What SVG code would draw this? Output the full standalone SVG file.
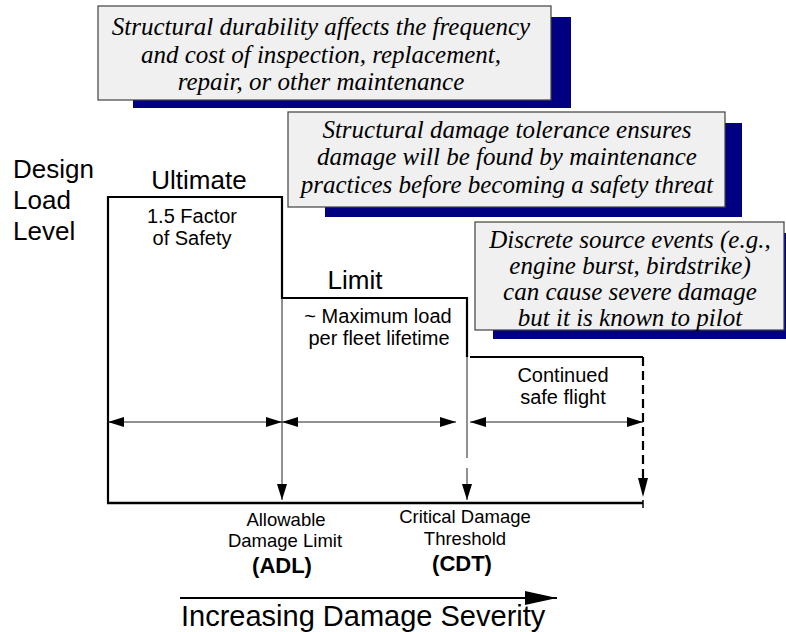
<svg xmlns="http://www.w3.org/2000/svg" width="786" height="632" viewBox="0 0 786 632">
<style>
.shadow{fill:#000080;}
.box{fill:#f0f0f0;stroke:#404040;stroke-width:1.2;}
.note{font-family:"Liberation Serif","Times New Roman",serif;font-style:italic;font-size:25px;fill:#000;text-anchor:middle;}
.big{font-family:"Liberation Sans",Arial,sans-serif;font-size:26px;fill:#000;}
.lbl{font-family:"Liberation Sans",Arial,sans-serif;font-size:20px;fill:#000;text-anchor:middle;}
.sm{font-family:"Liberation Sans",Arial,sans-serif;font-size:18.5px;fill:#000;text-anchor:middle;}
.bold{font-family:"Liberation Sans",Arial,sans-serif;font-size:22px;font-weight:bold;fill:#000;text-anchor:middle;}
.thick{stroke:#000;stroke-width:2.2;fill:none;}
.thin{stroke:#222;stroke-width:1;fill:none;}
.dash{stroke:#000;stroke-width:2.2;fill:none;stroke-dasharray:9,5;}
</style>
<defs>
<marker id="ah" viewBox="0 0 16 10" refX="16" refY="5" markerWidth="16" markerHeight="10" markerUnits="userSpaceOnUse" orient="auto-start-reverse">
<path d="M0,0 L16,5 L0,10 Z" fill="#000"/>
</marker>
<marker id="ahBig" viewBox="0 0 32 14" refX="32" refY="7" markerWidth="32" markerHeight="14" markerUnits="userSpaceOnUse" orient="auto">
<path d="M0,0 L32,7 L0,14 Z" fill="#000"/>
</marker>
</defs>

<g id="note-durability">
<rect class="shadow" x="133" y="17" width="438" height="91"/>
<rect class="box" x="98" y="6" width="453" height="94"/>
<text class="note" x="321" y="35">Structural durability affects the frequency</text>
<text class="note" x="321" y="63">and cost of inspection, replacement,</text>
<text class="note" x="321" y="90">repair, or other maintenance</text>
</g>

<g id="note-damage-tolerance">
<rect class="shadow" x="325" y="123" width="417" height="94"/>
<rect class="box" x="288" y="112" width="437" height="95"/>
<text class="note" x="507" y="138">Structural damage tolerance ensures</text>
<text class="note" x="507" y="165">damage will be found by maintenance</text>
<text class="note" x="507" y="193">practices before becoming a safety threat</text>
</g>

<g id="note-discrete-source">
<rect class="shadow" x="493" y="233" width="300" height="106"/>
<rect class="box" x="475" y="222" width="309" height="108"/>
<text class="note" x="630" y="248">Discrete source events (e.g.,</text>
<text class="note" x="630" y="274">engine burst, birdstrike)</text>
<text class="note" x="630" y="300">can cause severe damage</text>
<text class="note" x="630" y="326">but it is known to pilot</text>
</g>

<g id="axis-label">
<text class="big" x="13" y="178">Design</text>
<text class="big" x="13" y="209">Load</text>
<text class="big" x="13" y="240">Level</text>
</g>

<g id="ultimate">
<text class="big" x="199" y="189" text-anchor="middle">Ultimate</text>
<text class="lbl" x="192" y="223">1.5 Factor</text>
<text class="lbl" x="192" y="245">of Safety</text>
</g>

<g id="limit">
<text class="big" x="355" y="289" text-anchor="middle">Limit</text>
<text class="lbl" x="378" y="323">~ Maximum load</text>
<text class="lbl" x="379" y="345">per fleet lifetime</text>
</g>

<g id="continued">
<text class="lbl" x="563" y="382">Continued</text>
<text class="lbl" x="563" y="404">safe flight</text>
</g>

<g id="adl">
<text class="sm" x="286" y="526">Allowable</text>
<text class="sm" x="285" y="547">Damage Limit</text>
<text class="bold" x="282" y="573">(ADL)</text>
</g>

<g id="cdt">
<text class="sm" x="465" y="523">Critical Damage</text>
<text class="sm" x="465" y="545">Threshold</text>
<text class="bold" x="462" y="571">(CDT)</text>
</g>

<g id="severity">
<text class="big" x="181" y="626" style="font-size:29px">Increasing Damage Severity</text>
</g>

<g id="connectors">
<!-- load staircase -->
<path class="thick" d="M108,503 L108,197 L282,197 L282,298 L467,298 L467,357"/>
<path class="thick" d="M470,357 L643,357"/>
<path class="thick" d="M107,503 L643,503" style="stroke-width:2.5"/>
<!-- vertical markers -->
<path class="thin" d="M282,298 L282,500" marker-end="url(#ah)"/>
<path class="thin" d="M467,357 L467,458"/>
<path class="thin" d="M467,468 L467,500" marker-end="url(#ah)"/>
<path class="dash" d="M643,357 L643,478"/>
<path d="M638,478 L648,478 L643,497 Z" fill="#000"/>
<path class="dash" d="M643,500 L643,508" style="stroke-dasharray:none;stroke-width:1.5"/>
<!-- dimension arrows -->
<path class="thin" d="M108,422 L282,422" marker-start="url(#ah)" marker-end="url(#ah)"/>
<path class="thin" d="M282,422 L456,422" marker-start="url(#ah)" marker-end="url(#ah)"/>
<path class="thin" d="M470,422 L643,422" marker-start="url(#ah)" marker-end="url(#ah)"/>
<!-- severity arrow -->
<path class="thick" d="M180,598 L557,598" marker-end="url(#ahBig)"/>
</g>
</svg>
